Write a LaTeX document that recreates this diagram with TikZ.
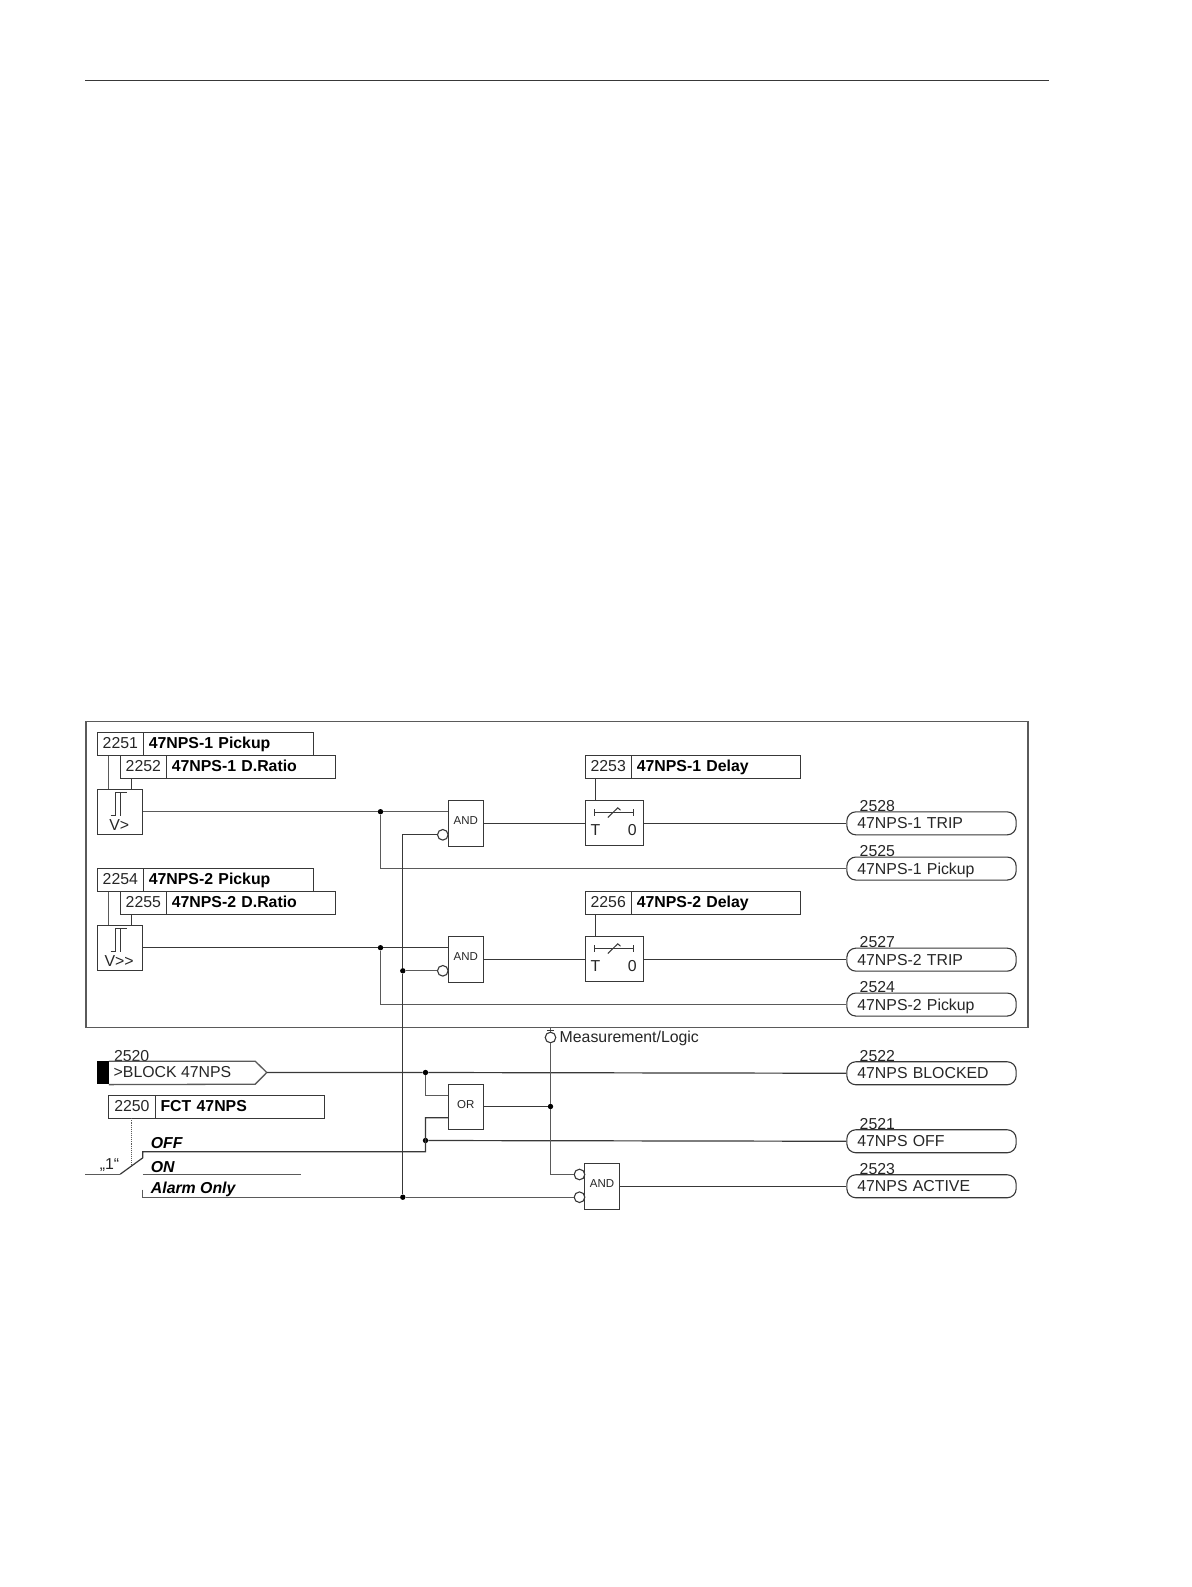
\documentclass[tikz,border=0pt]{standalone}
\usepackage{fontspec}
\setmainfont{Liberation Sans}
\definecolor{ln}{HTML}{383838}
\definecolor{gl}{HTML}{5A5A5A}
\newcommand{\fs}{\fontsize{15.85}{17}\selectfont}
\newcommand{\fsm}{\fontsize{11.5}{13}\selectfont}
\tikzset{
  base/.style={draw=ln,line width=1.1pt},
  wire/.style={draw=ln,line width=1.2pt},
  gwire/.style={draw=gl,line width=1.3pt},
  numbox/.style={base,inner sep=0pt,anchor=north west,font=\fs,text=black!85,text height=11.2pt,text depth=2pt},
  namebox/.style={base,inner sep=0pt,anchor=north west,font=\fs\bfseries,text=black,align=left,text height=11.2pt,text depth=2pt},
  gate/.style={base,inner sep=0pt,anchor=north west,font=\fsm,text=black!85,text height=8pt,text depth=5.4pt},
  pill/.style={draw=ln,line width=1.1pt,rounded corners=9pt,inner sep=0pt,anchor=north west,minimum width=169.3pt,minimum height=23pt,text width=169.3pt,align=left,font=\fs,text=black!85,text height=11.2pt,text depth=0pt},
  pillnum/.style={inner sep=0pt,anchor=west,font=\fs,text=black!85},
  neg/.style={circle,draw=ln,line width=1.1pt,fill=white,minimum size=10.6pt,inner sep=0pt},
  jdot/.style={circle,fill=black,minimum size=5.4pt,inner sep=0pt},
  lab/.style={inner sep=0pt,font=\fs,text=black!85},
  opt/.style={inner sep=0pt,anchor=west,font=\fs\bfseries\itshape,text=black},
}
% name, x left, y top, x divider, x right, number, label
\newcommand{\SetBox}[7]{%
  \node[numbox,minimum width=#4pt-#2pt,minimum height=23pt] (#1n) at (#2,#3) {#6};
  \node[namebox,minimum width=#5pt-#4pt,minimum height=23pt,text width=#5pt-#4pt] (#1t) at (#4,#3) {\hspace*{5.5pt}#7};
}
% name, y top, number, label
\newcommand{\Pill}[4]{%
  \node[pill] (#1) at (846.8,#2) {\hspace*{10.5pt}#4};
  \node[pillnum] (#1n) at (860,#2-5.3) {#3};
}
\newcommand{\Hyst}[2]{%
  \draw[ln,line width=1.1pt] (#1-8.5,#2+27) -- (#1-3.3,#2+27) -- (#1-3.3,#2+4) -- (#1+1.7,#2+4) -- (#1+1.7,#2+27);
  \draw[ln,line width=1.1pt] (#1+1.7,#2+4) -- (#1+8,#2+4);
}
\newcommand{\TimerSym}[2]{%
  \draw[ln,line width=1pt] (#1+10.3,#2+12.3) -- (#1+48.7,#2+12.3);
  \draw[ln,line width=1pt] (#1+10.3,#2+9) -- (#1+10.3,#2+15.6);
  \draw[ln,line width=1pt] (#1+48.7,#2+9) -- (#1+48.7,#2+15.6);
  \draw[ln,line width=1pt] (#1+23.3,#2+17.3) -- (#1+33.3,#2+7.6) -- (#1+36,#2+10);
}
\begin{document}
\begin{tikzpicture}[x=1pt,y=-1pt]
\useasboundingbox (0.5,0.5) rectangle (1191.5,1587.5);
\fill[white] (0.5,0.5) rectangle (1191.5,1587.5);
\coordinate (xa) at (108.7,0);
\coordinate (xb) at (131.7,0);
\coordinate (xc) at (596,0);

% page rule and frame
\coordinate (ruleL) at (85.5,80.8);
\coordinate (ruleR) at (1049.5,80.8);
\draw[ln,line width=1.1pt] (ruleL) -- (ruleR);
\node[draw=gl,line width=1.3pt,inner sep=0pt,anchor=north west,minimum width=942pt,minimum height=306.3pt] (frame) at (85.7,721) {};

% settings upper group
\SetBox{s2251}{97.3}{732.3}{143.3}{313.3}{2251}{47NPS-1 Pickup}
\SetBox{s2252}{120.3}{755.3}{166.3}{335.7}{2252}{47NPS-1 D.Ratio}
\node[gate,minimum width=45.4pt,minimum height=45.4pt] (v1) at (97.3,789.3) {};
\node[lab] (v1l) at (119.7,826) {V>};
\Hyst{119.6}{789.3}
\SetBox{s2254}{97.3}{868.3}{143.3}{313.3}{2254}{47NPS-2 Pickup}
\SetBox{s2255}{120.3}{891.3}{166.3}{335.7}{2255}{47NPS-2 D.Ratio}
\node[gate,minimum width=45.4pt,minimum height=45.4pt] (v2) at (97.3,925.3) {};
\node[lab] (v2l) at (119.7,962) {V>{}>};
\Hyst{119.6}{925.3}

% gates and timers
\node[gate,minimum width=35pt,minimum height=45.6pt] (and1) at (448.3,800.7) {AND};
\node[gate,minimum width=35pt,minimum height=45.6pt] (and2) at (448.3,936.7) {AND};
\node[gate,minimum width=35pt,minimum height=45.4pt] (or1) at (448.3,1084.3) {OR};
\node[gate,minimum width=34.7pt,minimum height=46pt] (and3) at (584.6,1163.3) {AND};
\node[neg] (n1) at (443.3,835.3) {};
\node[neg] (n2) at (443.3,971.3) {};
\node[neg] (n3) at (580,1175) {};
\node[neg] (n4) at (580,1197.7) {};

\SetBox{s2253}{585}{755.3}{631.3}{800.7}{2253}{47NPS-1 Delay}
\SetBox{s2256}{585}{891.3}{631.3}{800.7}{2256}{47NPS-2 Delay}
\node[gate,minimum width=58.3pt,minimum height=44.8pt] (t1) at (585,800.7) {};
\node[gate,minimum width=58.3pt,minimum height=44.8pt] (t2) at (585,936.7) {};
\TimerSym{585}{800.7}
\TimerSym{585}{936.7}
\node[lab] (t1a) at (596,830.7) {T};
\node[lab] (t1b) at (632.7,830.7) {0};
\node[lab] (t2a) at (596,966.7) {T};
\node[lab] (t2b) at (632.7,966.7) {0};

% outputs
\Pill{p2528}{811.8}{2528}{47NPS-1 TRIP}
\Pill{p2525}{857}{2525}{47NPS-1 Pickup}
\Pill{p2527}{948.1}{2527}{47NPS-2 TRIP}
\Pill{p2524}{993}{2524}{47NPS-2 Pickup}
\Pill{p2522}{1061.7}{2522}{47NPS BLOCKED}
\Pill{p2521}{1129.7}{2521}{47NPS OFF}
\Pill{p2523}{1174.7}{2523}{47NPS ACTIVE}

% junctions
\node[jdot] (d1) at (381,812.2) {};
\node[jdot] (d2) at (381,948.2) {};
\node[jdot] (d3) at (403.3,971.3) {};
\node[jdot] (d4) at (403.3,1197.7) {};
\node[jdot] (d5) at (426,1073) {};
\node[jdot] (d6) at (426,1141) {};
\node[jdot] (d7) at (551,1107) {};

% upper wiring
\draw[gwire] (s2251n.south -| xa) -- (v1.north -| xa);
\draw[wire] (s2252n.south -| xb) -- (v1.north -| xb);
\draw[gwire] (s2254n.south -| xa) -- (v2.north -| xa);
\draw[wire] (s2255n.south -| xb) -- (v2.north -| xb);
\draw[gwire] (v1.east |- d1) -- (d1) -- (and1.west |- d1);
\draw[wire] (v2.east |- d2) -- (d2) -- (and2.west |- d2);
\draw[gwire] (d1) |- (p2525.west);
\draw[gwire] (d2) |- (p2524.west);
\draw[wire] (and1.east |- p2528.west) -- (t1.west |- p2528.west);
\draw[wire] (and2.east |- p2527.west) -- (t2.west |- p2527.west);
\draw[wire] (s2253n.south -| xc) -- (t1.north -| xc);
\draw[wire] (s2256n.south -| xc) -- (t2.north -| xc);
\draw[wire] (t1.east |- p2528.west) -- (p2528.west);
\draw[wire] (t2.east |- p2527.west) -- (p2527.west);
\draw[wire] (n1.west) -- (d3.center |- n1.west) -- (d3) -- (d4);
\draw[gwire] (d3) -- (n2.west);

% lower left
\node[lab,anchor=west] (l2520) at (114.3,1056.2) {2520};
\node[fill=black,inner sep=0pt,minimum width=11.7pt,minimum height=23pt,anchor=north west] (blk) at (97.3,1061.7) {};
\node[lab,anchor=west] (lblock) at (114,1072.9) {>BLOCK 47NPS};
\coordinate (tip) at (267.3,1073);
\draw[gwire] (blk.north east) -- (255.7,1061.7) -- (tip) -- (255.7,1084.7) -- (blk.south east);
\SetBox{s2250}{108.7}{1095.7}{155}{324.3}{2250}{FCT 47NPS}
\draw[wire] (tip) -- (d5) -- (p2522.west);
\coordinate (orA) at (448.3,1095.7);
\coordinate (orB) at (448.3,1118.3);
\draw[gwire] (d5) |- (orA);
\coordinate (cOff) at (143.3,1152.3);
\coordinate (cOffB) at (143.3,1158.3);
\coordinate (cIn) at (85.7,1174.7);
\coordinate (cPiv) at (120.7,1174.7);
\coordinate (cOnL) at (143.3,1174.7);
\coordinate (cOnR) at (301.3,1174.7);
\coordinate (cAl) at (143.3,1190);
\coordinate (cAlB) at (143.3,1197.7);
\coordinate (dTop) at (131.7,1118.7);
\coordinate (dBot) at (131.7,1165);
\draw[wire] (orB) -| (d6.center) -- (426,1152.3) -- (cOff) -- (cOffB) -- (cPiv);
\draw[gwire] (cIn) -- (cPiv);
\draw[gwire] (cOnL) -- (cOnR);
\draw[wire] (d6) -- (p2521.west);
\draw[gwire] (cAl) -- (cAlB) -- (d4) -- (n4.west);
\draw[gl,line width=1.1pt,densely dotted] (dTop) -- (dBot);
\node[opt] (oOff) at (151.2,1143.5) {OFF};
\node[opt] (oOn) at (151.2,1167.3) {ON};
\node[opt] (oAl) at (151.2,1190.3) {Alarm Only};
\node[lab] (one) at (110,1165.3) {„1“};

% measurement / logic
\node[neg] (mc) at (551,1038) {};
\node[lab,anchor=west] (ml) at (560,1039.3) {Measurement/Logic};
\coordinate (mTop) at (551,1028);
\coordinate (mTL) at (547.5,1031);
\coordinate (mTR) at (554.5,1031);
\draw[gwire] (mTop) -- (mc.north);
\draw[ln,line width=1pt] (mTL) -- (mTR);
\draw[gwire] (mc.south) -- (d7) -- (d7.center |- n3.west) -- (n3.west);
\draw[wire] (or1.east |- d7) -- (d7);
\draw[wire] (and3.east |- p2523.west) -- (p2523.west);
\end{tikzpicture}
\end{document}
